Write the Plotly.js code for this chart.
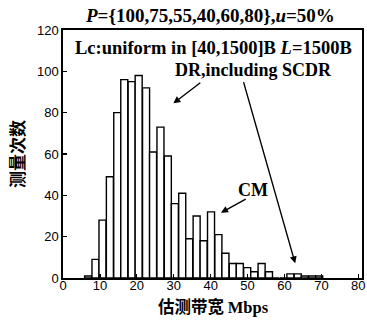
<!DOCTYPE html>
<html>
<head>
<meta charset="utf-8">
<script src="https://cdn.plot.ly/plotly-3.0.1.min.js"></script>
<style>
  html, body { margin: 0; padding: 0; background: #fff; }
  #chart { width: 367px; height: 324px; }
</style>
</head>
<body>
<div id="chart"></div>
<script>
// Histogram of bandwidth estimates (Mbps) and how often each bin occurred
const binCenters = [6.8, 8.8, 10.7, 12.7, 14.7, 16.6, 18.6, 20.5, 22.5, 24.4,
                    26.4, 28.4, 30.3, 32.3, 34.2, 36.2, 38.1, 40.1, 42.1, 44.0,
                    46.0, 47.9, 49.9, 51.8, 53.8, 55.8, 57.7, 59.7, 61.6, 63.6,
                    65.5, 67.5, 69.4];
const counts = [1, 9, 28, 49, 80, 96, 95, 98, 92, 61,
                73, 59, 36, 41, 19, 30, 18, 32, 21, 12,
                7, 7, 5, 3, 7, 3, 0, 0, 2, 2,
                1, 1, 1];
const xTicks = [0, 10, 20, 30, 40, 50, 60, 70, 80];
const yTicks = [0, 20, 40, 60, 80, 100, 120];

const serif = 'Liberation Serif, Times New Roman, serif';
const sans = 'Liberation Sans, Arial, sans-serif';
const cjk = 'Noto Sans CJK SC, sans-serif';

const trace = {
  type: 'bar',
  x: binCenters,
  y: counts,
  marker: { color: '#ffffff', line: { color: '#000000', width: 1.4 } },
  hoverinfo: 'x+y'
};

const arrowStyle = { showarrow: true, arrowhead: 2, arrowsize: 1, arrowwidth: 1.4,
                     arrowcolor: '#000', text: '', xref: 'x', yref: 'y',
                     axref: 'x', ayref: 'y' };

const textFont = { family: serif, size: 18, color: '#000', weight: 'bold' };

const layout = {
  width: 367, height: 324,
  margin: { l: 63, r: 5, t: 30, b: 46 },
  paper_bgcolor: '#fff', plot_bgcolor: '#fff',
  bargap: 0,
  showlegend: false,
  xaxis: {
    range: [0, 81], tickvals: xTicks, ticktext: xTicks.map(String),
    ticks: 'inside', ticklen: 4, tickwidth: 1.3, tickcolor: '#000',
    showline: true, mirror: true, linecolor: '#000', linewidth: 1.6,
    showgrid: false, zeroline: false, ticklabelstandoff: -5,
    tickfont: { family: sans, size: 13, color: '#000' }
  },
  yaxis: {
    range: [0, 120], tickvals: yTicks, ticktext: yTicks.map(String),
    ticks: 'inside', ticklen: 4, tickwidth: 1.3, tickcolor: '#000',
    showline: true, mirror: true, linecolor: '#000', linewidth: 1.6,
    showgrid: false, zeroline: false,
    tickfont: { family: sans, size: 13, color: '#000' },
    title: { text: '测量次数', font: { family: cjk, size: 17, color: '#000', weight: 'bold' }, standoff: 8 }
  },
  annotations: [
    { text: '估测带宽 <span style="font-family:Liberation Serif">Mbps</span>',
      xref: 'paper', yref: 'paper', x: 0.502, y: -0.113, yanchor: 'middle',
      showarrow: false, font: { family: cjk, size: 16.5, color: '#000', weight: 'bold' } },
    { text: '<i>P</i>={100,75,55,40,60,80},<i>u</i>=50%', xref: 'paper', yref: 'paper',
      x: 0.49, y: 1.06, yanchor: 'middle', showarrow: false,
      font: { family: serif, size: 19, color: '#000', weight: 'bold' } },
    { text: 'Lc:uniform in [40,1500]B <i>L</i>=1500B', xref: 'x', yref: 'y',
      x: 40.8, y: 111.3, showarrow: false,
      font: { family: serif, size: 18.5, color: '#000', weight: 'bold' } },
    { text: 'DR,including SCDR', xref: 'x', yref: 'y',
      x: 51.7, y: 100.6, showarrow: false, font: textFont },
    { text: 'CM', xref: 'x', yref: 'y',
      x: 51.5, y: 42.6, showarrow: false, font: textFont },
    Object.assign({ x: 29.9, y: 84.5, ax: 37.6, ay: 95.0 }, arrowStyle),
    Object.assign({ x: 62.9, y: 7.1, ax: 48.8, ay: 95.5 }, arrowStyle),
    Object.assign({ x: 42.8, y: 31.6, ax: 49.9, ay: 38.6 }, arrowStyle)
  ]
};

Plotly.newPlot('chart', [trace], layout, { staticPlot: true, displayModeBar: false });
</script>
</body>
</html>
